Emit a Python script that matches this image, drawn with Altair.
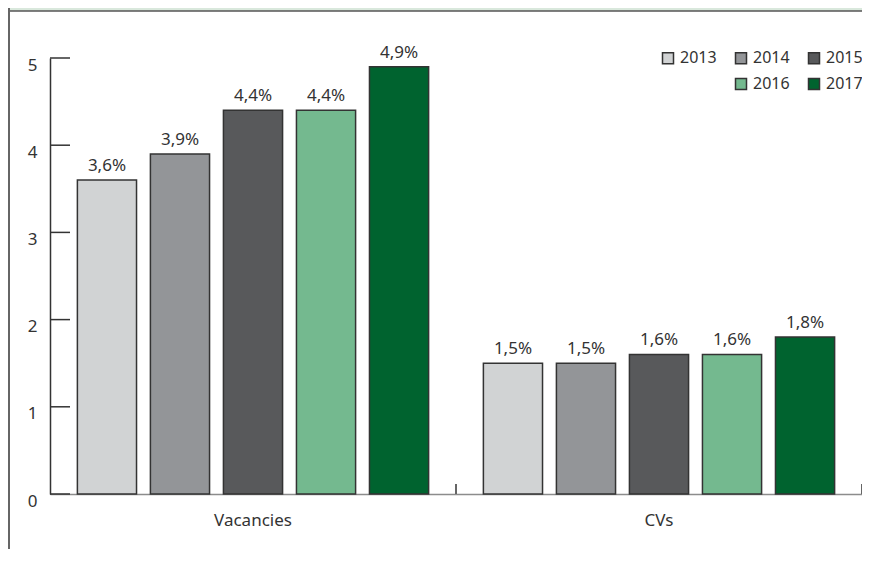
import altair as alt
import pandas as pd

categories = ["Vacancies", "CVs"]
years = ["2013", "2014", "2015", "2016", "2017"]
vacancies = [3.6, 3.9, 4.4, 4.4, 4.9]
cvs = [1.5, 1.5, 1.6, 1.6, 1.8]
y_ticks = [0, 1, 2, 3, 4, 5]
year_colors = ["#d1d3d4", "#939598", "#58595b", "#74b98f", "#00632f"]

rows = []
for cat, vals in zip(categories, [vacancies, cvs]):
    for yr, v in zip(years, vals):
        rows.append({"category": cat, "year": yr, "value": v})
df = pd.DataFrame(rows)

legend_domain = years[:3] + [" "] + years[3:]
legend_range = year_colors[:3] + ["#ffffff"] + year_colors[3:]

W, H = 812, 436
PAD = {"left": 42, "top": 50, "right": 0, "bottom": 55}
FONT = "Noto Sans"
TEXT = "#333333"

x_scale = alt.Scale(domain=categories, paddingInner=0, paddingOuter=0)
x_axis = alt.Axis(title=None, labelAngle=0, ticks=False, tickSize=0,
                  domainColor="#8c8c8c", domainWidth=1.5, labelFontSize=17,
                  labelPadding=18, labelColor=TEXT, labelFont=FONT)
x = alt.X("category:N", sort=categories, scale=x_scale, axis=x_axis)
xoff = alt.XOffset("year:N", sort=years,
                   scale=alt.Scale(domain=years, paddingInner=0.19, paddingOuter=0.375))
y_scale = alt.Scale(domain=[0, 5], nice=False)
y_axis = alt.Axis(title=None, values=y_ticks, ticks=False, tickSize=0, grid=False,
                  domainColor="#333333", domainWidth=1.5, labelFontSize=17,
                  labelPadding=13, labelOffset=7, labelBaseline="middle",
                  labelColor=TEXT, labelFont=FONT, format="d")
y = alt.Y("value:Q", scale=y_scale, axis=y_axis)

color = alt.Color(
    "year:N",
    scale=alt.Scale(domain=legend_domain, range=legend_range),
    legend=alt.Legend(
        title=None, orient="none", legendX=610, legendY=-8, columns=3,
        direction="horizontal",
        symbolType="square", symbolSize=121, symbolStrokeColor="#333333",
        symbolStrokeWidth=1.5,
        symbolOpacity={"expr": "datum.value === ' ' ? 0 : 1"},
        labelFontSize=16, labelFont=FONT, labelColor=TEXT, labelOffset=4,
        columnPadding=15, rowPadding=8,
    ),
)

bars = alt.Chart(df).mark_bar(stroke="#333333", strokeWidth=1.5).encode(
    x=x, xOffset=xoff, y=y, color=color
)

labels = alt.Chart(df).transform_calculate(
    label="replace(format(datum.value, '.1f'), '.', ',') + '%'"
).mark_text(dy=-9, baseline="alphabetic", fontSize=17, font=FONT, color=TEXT).encode(
    x=x, xOffset=xoff, y=y, text="label:N"
)

yticks = alt.Chart(pd.DataFrame({"value": y_ticks})).mark_rule(
    color="#333333", strokeWidth=1.5
).encode(y=y, x=alt.value(0), x2=alt.value(20))

xticks = alt.Chart(pd.DataFrame({"category": categories})).mark_rule(
    color="#666666", strokeWidth=2
).encode(
    x=alt.X("category:N", sort=categories, scale=x_scale, axis=x_axis, bandPosition=1),
    y=alt.value(H - 10), y2=alt.value(H),
)

dummy = pd.DataFrame({"d": [0]})
band = alt.Chart(dummy).mark_rect(color="#d9e8dc").encode(
    x=alt.value(-PAD["left"]), x2=alt.value(W), y=alt.value(-PAD["top"]), y2=alt.value(-PAD["top"] + 3)
)
band_line = alt.Chart(dummy).mark_rule(color="#555555", strokeWidth=1.5).encode(
    x=alt.value(-PAD["left"]), x2=alt.value(W), y=alt.value(-PAD["top"] + 3)
)
left_border = alt.Chart(dummy).mark_rule(color="#666666", strokeWidth=2).encode(
    x=alt.value(-PAD["left"] + 1), y=alt.value(-PAD["top"]), y2=alt.value(H + PAD["bottom"])
)

chart = alt.layer(band, band_line, left_border, bars, labels, yticks, xticks).properties(
    width=W, height=H,
    autosize=alt.AutoSizeParams(type="none"),
    padding=PAD,
    background="white",
).configure_view(stroke=None)

chart.save("out.html", embed_options={"renderer": "svg", "actions": False})
